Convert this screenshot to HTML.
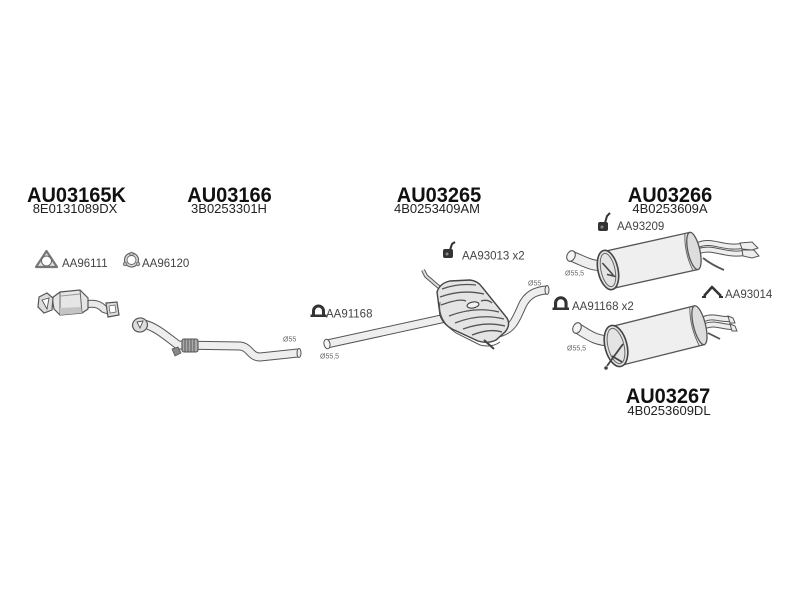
<!DOCTYPE html>
<html><head><meta charset="utf-8"><style>
html,body{margin:0;padding:0;background:#fff;}
svg{display:block;}
.t{font-family:"Liberation Sans",Arial,sans-serif;font-weight:bold;font-size:20px;fill:#111;text-anchor:middle;}
.s{font-family:"Liberation Sans",Arial,sans-serif;font-size:13px;fill:#222;text-anchor:middle;}
.l{font-family:"Liberation Sans",Arial,sans-serif;font-size:11.5px;fill:#444;}
.d{font-family:"Liberation Sans",Arial,sans-serif;font-size:7px;fill:#666;}
</style></head><body>
<svg width="800" height="600" viewBox="0 0 800 600" xmlns="http://www.w3.org/2000/svg">
<rect width="800" height="600" fill="#fff"/>

<!-- Titles -->
<g transform="translate(0,202) scale(1,1.06) translate(0,-202)">
<text class="t" x="76.5" y="202">AU03165K</text>
<text class="t" x="229.5" y="202">AU03166</text>
<text class="t" x="439" y="202">AU03265</text>
<text class="t" x="670" y="202">AU03266</text>
</g>
<g transform="translate(0,403) scale(1,1.06) translate(0,-403)">
<text class="t" x="668" y="403">AU03267</text>
</g>
<text class="s" x="75" y="213">8E0131089DX</text>
<text class="s" x="229" y="213">3B0253301H</text>
<text class="s" x="437" y="213">4B0253409AM</text>
<text class="s" x="670" y="213">4B0253609A</text>
<text class="s" x="669" y="415">4B0253609DL</text>

<!-- Part labels -->
<text class="l" x="62" y="267">AA96111</text>
<text class="l" x="142" y="267">AA96120</text>
<text class="l" x="326" y="317.5">AA91168</text>
<text class="l" x="462" y="259.5">AA93013 x2</text>
<text class="l" x="617" y="230">AA93209</text>
<text class="l" x="572" y="310">AA91168 x2</text>
<text class="l" x="725" y="298">AA93014</text>

<!-- Diameter labels -->
<text class="d" x="283" y="341.5">Ø55</text>
<text class="d" x="320" y="358.5">Ø55,5</text>
<text class="d" x="528" y="285.5">Ø55</text>
<text class="d" x="565" y="275.5">Ø55,5</text>
<text class="d" x="567" y="350.5">Ø55,5</text>

<!-- Gasket AA96111 -->
<path d="M46.5,251 L57,267 L36,267 Z" fill="#e2e2e2" stroke="#777" stroke-width="2.2" stroke-linejoin="round"/>
<circle cx="46.5" cy="261" r="5" fill="#fff" stroke="#666" stroke-width="1"/>
<!-- Gasket AA96120 -->
<circle cx="131.5" cy="260" r="7" fill="#dcdcdc" stroke="#666" stroke-width="1.2"/>
<circle cx="131.5" cy="254" r="1.8" fill="#bbb" stroke="#666" stroke-width="0.8"/>
<circle cx="125" cy="264" r="1.8" fill="#bbb" stroke="#666" stroke-width="0.8"/>
<circle cx="138" cy="264" r="1.8" fill="#bbb" stroke="#666" stroke-width="0.8"/>
<circle cx="131.5" cy="260" r="4.5" fill="#fff" stroke="#666" stroke-width="0.9"/>

<!-- Clamp AA91168 (middle) -->
<path d="M312,317 L312,311 A6.5,6.5 0 0 1 325,311 L325,317 L322,317 L322,311 A3.5,3.5 0 0 0 315,311 L315,317 Z" fill="#333"/>
<rect x="310.5" y="314.5" width="16" height="2.5" fill="#333"/>
<!-- Clamp AA91168 x2 (rear) -->
<path d="M554,310 L554,303 A6.8,6.8 0 0 1 567.6,303 L567.6,310 L564.5,310 L564.5,303 A3.7,3.7 0 0 0 557.1,303 L557.1,310 Z" fill="#333"/>
<rect x="552.5" y="307.5" width="16.5" height="2.5" fill="#333"/>

<!-- Hanger AA93013 -->
<rect x="443" y="249" width="10" height="9" rx="2" fill="#333"/>
<path d="M450,250 L452,244 L455,242" fill="none" stroke="#333" stroke-width="2"/>
<circle cx="447" cy="254" r="1.5" fill="#888"/>
<!-- Hanger AA93209 -->
<rect x="598" y="222" width="10" height="9" rx="2" fill="#333"/>
<path d="M605,223 L607,216 L610,213" fill="none" stroke="#333" stroke-width="2"/>
<circle cx="602" cy="227" r="1.5" fill="#888"/>
<!-- AA93014 -->
<path d="M704,296 L712,287 L721,296" fill="none" stroke="#333" stroke-width="2.5" stroke-linejoin="round"/>
<path d="M702,297 L706,297 M719,297 L723,297" stroke="#333" stroke-width="2"/>

<!-- Catalytic converter AU03165K -->
<path d="M88,304 C96,303 100,305 104,309 L110,311" fill="none" stroke="#555" stroke-width="8"/>
<path d="M88,304 C96,303 100,305 104,309 L110,311" fill="none" stroke="#e8e8e8" stroke-width="6"/>
<polygon points="106,303 117,302 119,315 108,317" fill="#ddd" stroke="#555" stroke-width="1.2"/>
<polygon points="109,306 115,305 116,312 110,313" fill="#fff" stroke="#666" stroke-width="0.8"/>
<path d="M52,298 L60,292 L80,290 L88,298 L88,309 L82,313 L60,315 L54,309 Z" fill="#e6e6e6" stroke="#555" stroke-width="1.2"/>
<path d="M60,292 L60,315 M80,290 L82,313" stroke="#666" stroke-width="1"/>
<path d="M60,308 L81,307 L82,313 L60,315 Z" fill="#c4c4c4"/>
<path d="M61,296 L80,294" stroke="#999" stroke-width="1"/>
<polygon points="39,297 47,293 53,298 52,310 44,313 38,307" fill="#ddd" stroke="#555" stroke-width="1.2"/>
<polygon points="42,300 49,298 47,309" fill="#fff" stroke="#555" stroke-width="0.9"/>

<!-- Front pipe AU03166 -->
<path d="M144,324 C156,327 166,336 178,345 L240,346 C250,347 250,357 260,357 L298,353" fill="none" stroke="#555" stroke-width="9" stroke-linejoin="round"/>
<path d="M144,324 C156,327 166,336 178,345 L240,346 C250,347 250,357 260,357 L298,353" fill="none" stroke="#eee" stroke-width="7" stroke-linejoin="round"/>
<ellipse cx="299" cy="353" rx="2" ry="4.5" fill="#eee" stroke="#555" stroke-width="1"/>
<rect x="182" y="339" width="16" height="13" rx="2" fill="#aaa" stroke="#555" stroke-width="1.1"/>
<path d="M185,339 L185,352 M188,339 L188,352 M191,339 L191,352 M194,339 L194,352" stroke="#555" stroke-width="1"/>
<path d="M172,349 L178,347 L181,353 L175,356 Z" fill="#888" stroke="#555" stroke-width="0.8"/>
<ellipse cx="140" cy="325" rx="7.5" ry="7" fill="#ddd" stroke="#555" stroke-width="1.2" transform="rotate(-20 140 325)"/>
<polygon points="137,322 143,321 140,328" fill="#fff" stroke="#555" stroke-width="0.9"/>

<!-- Middle pipe AU03265 -->
<path d="M327,344 L455,316" fill="none" stroke="#555" stroke-width="9"/>
<path d="M327,344 L455,316" fill="none" stroke="#eee" stroke-width="7"/>
<ellipse cx="327" cy="344" rx="3" ry="4.8" fill="#f6f6f6" stroke="#555" stroke-width="1" transform="rotate(-12 327 344)"/>
<!-- inlet stub -->
<path d="M440,288 L426,276 L423,270" fill="none" stroke="#555" stroke-width="4"/>
<path d="M440,288 L426,276 L423,270" fill="none" stroke="#ddd" stroke-width="2"/>
<!-- outlet pipe -->
<path d="M498,333 C512,330 516,320 522,306 C527,295 535,291 546,290" fill="none" stroke="#555" stroke-width="9" stroke-linejoin="round"/>
<path d="M498,333 C512,330 516,320 522,306 C527,295 535,291 546,290" fill="none" stroke="#eee" stroke-width="7" stroke-linejoin="round"/>
<ellipse cx="547" cy="290" rx="2" ry="4.5" fill="#eee" stroke="#555" stroke-width="1"/>
<!-- muffler body -->
<path d="M437,292 Q440,283 450,281 L470,280 Q478,281 482,287 L507,318 Q511,325 505,332 L496,340 Q488,344 478,341 L452,329 Q443,324 440,315 Z" fill="#e4e4e4" stroke="#444" stroke-width="1.4"/>
<path d="M442,289 Q458,283 476,285" fill="none" stroke="#555" stroke-width="1.3"/>
<path d="M440,297 Q462,289 484,294" fill="none" stroke="#555" stroke-width="1.3"/>
<path d="M441,305 Q460,298 466,301" fill="none" stroke="#555" stroke-width="1.3"/>
<path d="M481,301 Q488,299 492,303" fill="none" stroke="#555" stroke-width="1.3"/>
<path d="M449,316 Q475,306 499,312" fill="none" stroke="#555" stroke-width="1.3"/>
<path d="M455,323 Q480,313 504,319" fill="none" stroke="#555" stroke-width="1.3"/>
<path d="M463,329 Q485,321 505,326" fill="none" stroke="#555" stroke-width="1.3"/>
<path d="M472,335 Q490,328 502,332" fill="none" stroke="#555" stroke-width="1.3"/>
<ellipse cx="473" cy="305" rx="6" ry="3" fill="#f2f2f2" stroke="#444" stroke-width="1.1" transform="rotate(-10 473 305)"/>
<path d="M440,302 Q437,320 456,333 L480,345 Q492,348 500,342" fill="none" stroke="#555" stroke-width="1"/>
<path d="M484,340 L494,349" stroke="#444" stroke-width="2"/>

<!-- Rear muffler AU03266 -->
<path d="M571,256 C586,262 590,266 606,266" fill="none" stroke="#555" stroke-width="11"/>
<path d="M571,256 C586,262 590,266 606,266" fill="none" stroke="#eee" stroke-width="9"/>
<ellipse cx="571" cy="256" rx="4" ry="5.5" fill="#f4f4f4" stroke="#555" stroke-width="1.1" transform="rotate(25 571 256)"/>
<path d="M698,245 C712,239 722,249 742,246" fill="none" stroke="#555" stroke-width="6"/>
<path d="M698,245 C712,239 722,249 742,246" fill="none" stroke="#eee" stroke-width="4"/>
<path d="M699,251 C713,246 724,256 744,253" fill="none" stroke="#555" stroke-width="6"/>
<path d="M699,251 C713,246 724,256 744,253" fill="none" stroke="#eee" stroke-width="4"/>
<path d="M740,243 L752,242 L758,248 L752,250 L742,249 Z" fill="#eee" stroke="#555" stroke-width="1"/>
<path d="M742,250 L754,250 L759,256 L752,258 L743,256 Z" fill="#eee" stroke="#555" stroke-width="1"/>
<path d="M703,258 Q712,265 724,270" fill="none" stroke="#555" stroke-width="1.8"/>
<g transform="translate(608,270) rotate(-12.5)">
  <rect x="0" y="-19" width="88" height="38" fill="#efefef" stroke="#555" stroke-width="1.3"/>
  <ellipse cx="88" cy="0" rx="6" ry="19" fill="#ddd" stroke="#555" stroke-width="1.3"/>
  <path d="M83,-19 Q78,0 83,19" fill="none" stroke="#666" stroke-width="1"/>
  <ellipse cx="0" cy="0" rx="10" ry="20" fill="#e4e4e4" stroke="#444" stroke-width="1.6"/>
  <ellipse cx="0" cy="0" rx="7" ry="17" fill="none" stroke="#666" stroke-width="1"/>
  <path d="M-4,-8 L4,6 M-2,4 L6,8" stroke="#444" stroke-width="1.5"/>
</g>

<!-- Rear muffler AU03267 -->
<path d="M577,328 C590,336 596,341 612,341" fill="none" stroke="#555" stroke-width="11"/>
<path d="M577,328 C590,336 596,341 612,341" fill="none" stroke="#eee" stroke-width="9"/>
<ellipse cx="577" cy="328" rx="4" ry="5.5" fill="#f4f4f4" stroke="#555" stroke-width="1.1" transform="rotate(25 577 328)"/>
<path d="M704,319 C714,315 720,320 730,319" fill="none" stroke="#555" stroke-width="6"/>
<path d="M704,319 C714,315 720,320 730,319" fill="none" stroke="#eee" stroke-width="4"/>
<path d="M705,326 C715,322 721,327 732,327" fill="none" stroke="#555" stroke-width="6"/>
<path d="M705,326 C715,322 721,327 732,327" fill="none" stroke="#eee" stroke-width="4"/>
<path d="M728,316 L733,318 L735,323 L730,323 Z" fill="#eee" stroke="#555" stroke-width="1"/>
<path d="M730,324 L735,326 L737,331 L732,331 Z" fill="#eee" stroke="#555" stroke-width="1"/>
<path d="M708,333 L720,339" stroke="#555" stroke-width="1.8"/>
<g transform="translate(616,346) rotate(-14)">
  <rect x="0" y="-20" width="86" height="40" fill="#efefef" stroke="#555" stroke-width="1.3"/>
  <ellipse cx="86" cy="0" rx="6" ry="20" fill="#ddd" stroke="#555" stroke-width="1.3"/>
  <path d="M81,-20 Q76,0 81,20" fill="none" stroke="#666" stroke-width="1"/>
  <ellipse cx="0" cy="0" rx="11" ry="21" fill="#e4e4e4" stroke="#444" stroke-width="1.6"/>
  <ellipse cx="0" cy="0" rx="8" ry="18" fill="none" stroke="#666" stroke-width="1"/>
</g>
<path d="M623,344 L607,366 M612,356 L622,362" stroke="#444" stroke-width="1.8"/>
<circle cx="606" cy="368" r="1.8" fill="#444"/>
</svg>
</body></html>
